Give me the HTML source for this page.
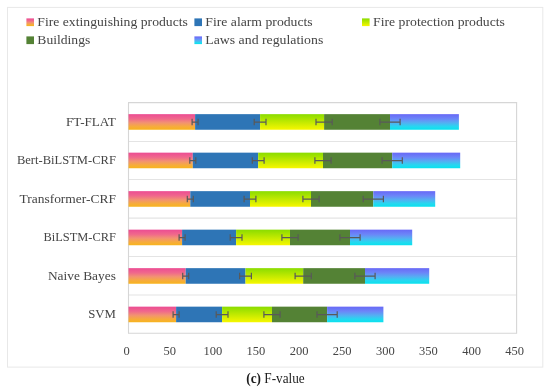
<!DOCTYPE html>
<html><head><meta charset="utf-8"><title>F-value</title>
<style>
html,body{margin:0;padding:0;background:#fff;}
body{width:550px;height:390px;overflow:hidden;font-family:"Liberation Serif",serif;}
svg{display:block;}
text{font-family:"Liberation Serif",serif;fill:#454545;stroke:#454545;stroke-width:0;}
</style></head><body>
<svg style="will-change:transform" width="550" height="390" viewBox="0 0 550 390">
<defs>
<linearGradient id="g1" x1="0" y1="0" x2="0" y2="1"><stop offset="0" stop-color="#ec4c93"/><stop offset="0.3" stop-color="#f0688c"/><stop offset="0.55" stop-color="#f29272"/><stop offset="0.8" stop-color="#f6ac3c"/><stop offset="1" stop-color="#f8b41c"/></linearGradient>
<linearGradient id="g3" x1="0" y1="0" x2="0" y2="1"><stop offset="0" stop-color="#8adc00"/><stop offset="1" stop-color="#f7f700"/></linearGradient>
<linearGradient id="g5" x1="0" y1="0" x2="0" y2="1"><stop offset="0" stop-color="#6868f6"/><stop offset="0.3" stop-color="#6c86f8"/><stop offset="0.55" stop-color="#55aef2"/><stop offset="0.8" stop-color="#25d8f0"/><stop offset="1" stop-color="#08e2ee"/></linearGradient>
</defs>
<rect x="0" y="0" width="550" height="390" fill="#ffffff"/>

<rect x="7.5" y="7.4" width="535.3" height="359.7" fill="#fff" stroke="#e8e8e8" stroke-width="1"/>
<line x1="128.00" y1="102.60" x2="517.10" y2="102.60" stroke="#d6d6d6" stroke-width="1.1"/>
<line x1="128.00" y1="141.45" x2="517.10" y2="141.45" stroke="#e4e4e4" stroke-width="1.1"/>
<line x1="128.00" y1="179.50" x2="517.10" y2="179.50" stroke="#e4e4e4" stroke-width="1.1"/>
<line x1="128.00" y1="218.15" x2="517.10" y2="218.15" stroke="#e4e4e4" stroke-width="1.1"/>
<line x1="128.00" y1="256.50" x2="517.10" y2="256.50" stroke="#e4e4e4" stroke-width="1.1"/>
<line x1="128.00" y1="295.00" x2="517.10" y2="295.00" stroke="#e4e4e4" stroke-width="1.1"/>
<line x1="128.00" y1="333.30" x2="517.10" y2="333.30" stroke="#d6d6d6" stroke-width="1.1"/>
<line x1="128.50" y1="102.60" x2="128.50" y2="333.30" stroke="#d6d6d6" stroke-width="1.1"/>
<line x1="516.60" y1="102.60" x2="516.60" y2="333.30" stroke="#d6d6d6" stroke-width="1.1"/>
<rect x="128.50" y="114.15" width="66.60" height="15.60" fill="url(#g1)"/>
<rect x="195.10" y="114.15" width="65.00" height="15.60" fill="#2e75b6"/>
<rect x="260.10" y="114.15" width="64.00" height="15.60" fill="url(#g3)"/>
<rect x="324.10" y="114.15" width="65.90" height="15.60" fill="#548235"/>
<rect x="390.00" y="114.15" width="68.90" height="15.60" fill="url(#g5)"/>
<path d="M192.10 122.05H198.10M192.10 118.85V125.25M198.10 118.85V125.25" stroke="#595959" stroke-width="1.2" fill="none"/>
<path d="M254.20 122.05H266.00M254.20 118.85V125.25M266.00 118.85V125.25" stroke="#595959" stroke-width="1.2" fill="none"/>
<path d="M316.00 122.05H332.20M316.00 118.85V125.25M332.20 118.85V125.25" stroke="#595959" stroke-width="1.2" fill="none"/>
<path d="M379.90 122.05H400.10M379.90 118.85V125.25M400.10 118.85V125.25" stroke="#595959" stroke-width="1.2" fill="none"/>
<text x="66.00" y="125.95" font-size="13.40" textLength="49.90" lengthAdjust="spacingAndGlyphs">FT-FLAT</text>
<rect x="128.50" y="152.65" width="64.30" height="15.60" fill="url(#g1)"/>
<rect x="192.80" y="152.65" width="65.40" height="15.60" fill="#2e75b6"/>
<rect x="258.20" y="152.65" width="64.80" height="15.60" fill="url(#g3)"/>
<rect x="323.00" y="152.65" width="69.20" height="15.60" fill="#548235"/>
<rect x="392.20" y="152.65" width="68.00" height="15.60" fill="url(#g5)"/>
<path d="M189.80 160.55H195.80M189.80 157.35V163.75M195.80 157.35V163.75" stroke="#595959" stroke-width="1.2" fill="none"/>
<path d="M252.30 160.55H264.10M252.30 157.35V163.75M264.10 157.35V163.75" stroke="#595959" stroke-width="1.2" fill="none"/>
<path d="M314.90 160.55H331.10M314.90 157.35V163.75M331.10 157.35V163.75" stroke="#595959" stroke-width="1.2" fill="none"/>
<path d="M382.10 160.55H402.30M382.10 157.35V163.75M402.30 157.35V163.75" stroke="#595959" stroke-width="1.2" fill="none"/>
<text x="16.90" y="164.45" font-size="13.40" textLength="99.00" lengthAdjust="spacingAndGlyphs">Bert-BiLSTM-CRF</text>
<rect x="128.50" y="191.15" width="61.80" height="15.60" fill="url(#g1)"/>
<rect x="190.30" y="191.15" width="59.70" height="15.60" fill="#2e75b6"/>
<rect x="250.00" y="191.15" width="61.00" height="15.60" fill="url(#g3)"/>
<rect x="311.00" y="191.15" width="62.30" height="15.60" fill="#548235"/>
<rect x="373.30" y="191.15" width="61.90" height="15.60" fill="url(#g5)"/>
<path d="M187.30 199.05H193.30M187.30 195.85V202.25M193.30 195.85V202.25" stroke="#595959" stroke-width="1.2" fill="none"/>
<path d="M244.10 199.05H255.90M244.10 195.85V202.25M255.90 195.85V202.25" stroke="#595959" stroke-width="1.2" fill="none"/>
<path d="M302.90 199.05H319.10M302.90 195.85V202.25M319.10 195.85V202.25" stroke="#595959" stroke-width="1.2" fill="none"/>
<path d="M363.20 199.05H383.40M363.20 195.85V202.25M383.40 195.85V202.25" stroke="#595959" stroke-width="1.2" fill="none"/>
<text x="19.50" y="202.50" font-size="13.40" textLength="96.40" lengthAdjust="spacingAndGlyphs">Transformer-CRF</text>
<rect x="128.50" y="229.65" width="53.60" height="15.60" fill="url(#g1)"/>
<rect x="182.10" y="229.65" width="54.00" height="15.60" fill="#2e75b6"/>
<rect x="236.10" y="229.65" width="53.90" height="15.60" fill="url(#g3)"/>
<rect x="290.00" y="229.65" width="60.00" height="15.60" fill="#548235"/>
<rect x="350.00" y="229.65" width="62.20" height="15.60" fill="url(#g5)"/>
<path d="M179.10 237.55H185.10M179.10 234.35V240.75M185.10 234.35V240.75" stroke="#595959" stroke-width="1.2" fill="none"/>
<path d="M230.20 237.55H242.00M230.20 234.35V240.75M242.00 234.35V240.75" stroke="#595959" stroke-width="1.2" fill="none"/>
<path d="M281.90 237.55H298.10M281.90 234.35V240.75M298.10 234.35V240.75" stroke="#595959" stroke-width="1.2" fill="none"/>
<path d="M339.90 237.55H360.10M339.90 234.35V240.75M360.10 234.35V240.75" stroke="#595959" stroke-width="1.2" fill="none"/>
<text x="43.50" y="240.95" font-size="13.40" textLength="72.40" lengthAdjust="spacingAndGlyphs">BiLSTM-CRF</text>
<rect x="128.50" y="268.15" width="57.20" height="15.60" fill="url(#g1)"/>
<rect x="185.70" y="268.15" width="59.80" height="15.60" fill="#2e75b6"/>
<rect x="245.50" y="268.15" width="57.70" height="15.60" fill="url(#g3)"/>
<rect x="303.20" y="268.15" width="61.80" height="15.60" fill="#548235"/>
<rect x="365.00" y="268.15" width="64.20" height="15.60" fill="url(#g5)"/>
<path d="M182.70 276.05H188.70M182.70 272.85V279.25M188.70 272.85V279.25" stroke="#595959" stroke-width="1.2" fill="none"/>
<path d="M239.60 276.05H251.40M239.60 272.85V279.25M251.40 272.85V279.25" stroke="#595959" stroke-width="1.2" fill="none"/>
<path d="M295.10 276.05H311.30M295.10 272.85V279.25M311.30 272.85V279.25" stroke="#595959" stroke-width="1.2" fill="none"/>
<path d="M354.90 276.05H375.10M354.90 272.85V279.25M375.10 272.85V279.25" stroke="#595959" stroke-width="1.2" fill="none"/>
<text x="47.90" y="279.55" font-size="13.40" textLength="68.00" lengthAdjust="spacingAndGlyphs">Naive Bayes</text>
<rect x="128.50" y="306.65" width="47.60" height="15.60" fill="url(#g1)"/>
<rect x="176.10" y="306.65" width="46.00" height="15.60" fill="#2e75b6"/>
<rect x="222.10" y="306.65" width="49.90" height="15.60" fill="url(#g3)"/>
<rect x="272.00" y="306.65" width="55.10" height="15.60" fill="#548235"/>
<rect x="327.10" y="306.65" width="56.30" height="15.60" fill="url(#g5)"/>
<path d="M173.10 314.55H179.10M173.10 311.35V317.75M179.10 311.35V317.75" stroke="#595959" stroke-width="1.2" fill="none"/>
<path d="M216.20 314.55H228.00M216.20 311.35V317.75M228.00 311.35V317.75" stroke="#595959" stroke-width="1.2" fill="none"/>
<path d="M263.90 314.55H280.10M263.90 311.35V317.75M280.10 311.35V317.75" stroke="#595959" stroke-width="1.2" fill="none"/>
<path d="M317.00 314.55H337.20M317.00 311.35V317.75M337.20 311.35V317.75" stroke="#595959" stroke-width="1.2" fill="none"/>
<text x="88.20" y="318.25" font-size="13.40" textLength="27.70" lengthAdjust="spacingAndGlyphs">SVM</text>
<text x="123.47" y="355.20" font-size="13.40" textLength="6.25" lengthAdjust="spacingAndGlyphs">0</text>
<text x="163.47" y="355.20" font-size="13.40" textLength="12.50" lengthAdjust="spacingAndGlyphs">50</text>
<text x="203.47" y="355.20" font-size="13.40" textLength="18.75" lengthAdjust="spacingAndGlyphs">100</text>
<text x="246.59" y="355.20" font-size="13.40" textLength="18.75" lengthAdjust="spacingAndGlyphs">150</text>
<text x="289.71" y="355.20" font-size="13.40" textLength="18.75" lengthAdjust="spacingAndGlyphs">200</text>
<text x="332.84" y="355.20" font-size="13.40" textLength="18.75" lengthAdjust="spacingAndGlyphs">250</text>
<text x="375.96" y="355.20" font-size="13.40" textLength="18.75" lengthAdjust="spacingAndGlyphs">300</text>
<text x="419.08" y="355.20" font-size="13.40" textLength="18.75" lengthAdjust="spacingAndGlyphs">350</text>
<text x="462.20" y="355.20" font-size="13.40" textLength="18.75" lengthAdjust="spacingAndGlyphs">400</text>
<text x="505.33" y="355.20" font-size="13.40" textLength="18.75" lengthAdjust="spacingAndGlyphs">450</text>
<rect x="26.40" y="18.40" width="7.6" height="7.7" fill="url(#g1)"/>
<text x="37.30" y="26.00" font-size="13.40" textLength="150.60" lengthAdjust="spacingAndGlyphs">Fire extinguishing products</text>
<rect x="194.40" y="18.40" width="7.6" height="7.7" fill="#2e75b6"/>
<text x="205.30" y="26.00" font-size="13.40" textLength="107.40" lengthAdjust="spacingAndGlyphs">Fire alarm products</text>
<rect x="362.00" y="18.40" width="7.6" height="7.7" fill="url(#g3)"/>
<text x="373.10" y="26.00" font-size="13.40" textLength="131.80" lengthAdjust="spacingAndGlyphs">Fire protection products</text>
<rect x="26.40" y="36.40" width="7.6" height="7.7" fill="#548235"/>
<text x="37.30" y="43.70" font-size="13.40" textLength="53.00" lengthAdjust="spacingAndGlyphs">Buildings</text>
<rect x="194.40" y="36.40" width="7.6" height="7.7" fill="url(#g5)"/>
<text x="205.30" y="43.70" font-size="13.40" textLength="118.00" lengthAdjust="spacingAndGlyphs">Laws and regulations</text>
<text x="246.3" y="383" font-size="13.70" textLength="58.4" lengthAdjust="spacingAndGlyphs" style="fill:#1c1c1c;stroke:#1c1c1c"><tspan font-weight="bold">(c)</tspan> F-value</text>
</svg></body></html>
